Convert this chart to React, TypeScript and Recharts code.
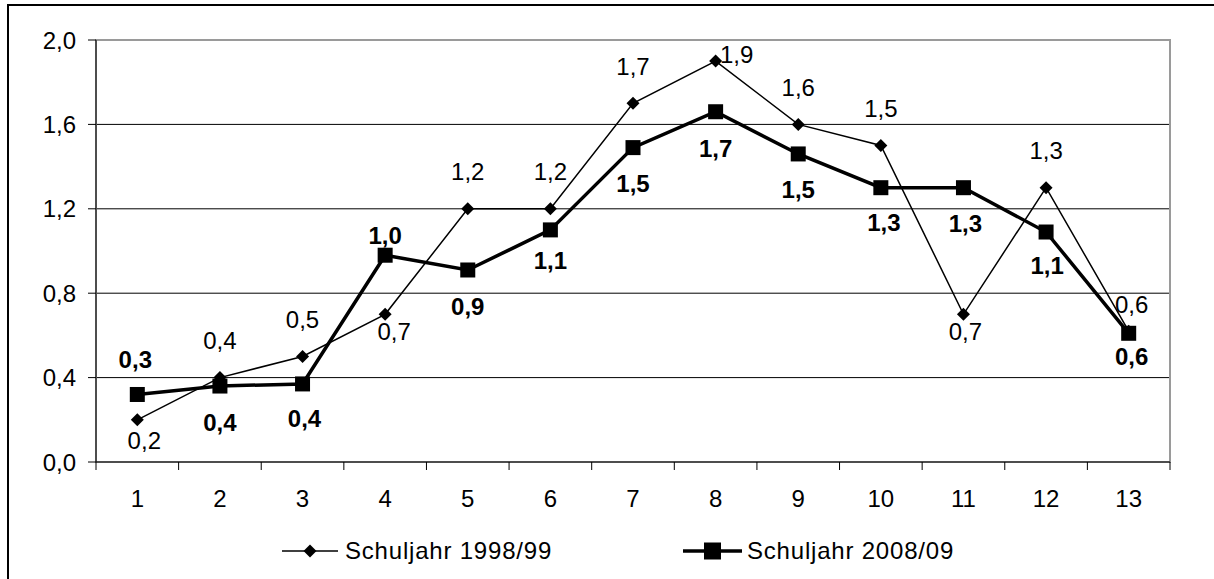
import { LineChart, Line, XAxis, YAxis, CartesianGrid, Legend, ReferenceArea } from 'recharts';

// Klassenstufen 1 bis 13
const GRADES = [1, 2, 3, 4, 5, 6, 7, 8, 9, 10, 11, 12, 13];

// Werte
const SCHULJAHR_1998 = [0.2, 0.4, 0.5, 0.7, 1.2, 1.2, 1.7, 1.9, 1.6, 1.5, 0.7, 1.3, 0.62];
const SCHULJAHR_2008 = [0.32, 0.36, 0.37, 0.98, 0.91, 1.1, 1.49, 1.66, 1.46, 1.3, 1.3, 1.09, 0.61];

const Y_TICKS = [0, 0.4, 0.8, 1.2, 1.6, 2.0];
const SERIES_NAMES = ['Schuljahr 1998/99', 'Schuljahr 2008/09'];

// Lage der Datenbeschriftungen relativ zum Punkt (dx, dy)
const OFFSET_1998 = [[7, 21], [0, -37], [0, -37], [9, 17], [0, -37], [0, -37], [0, -37], [21, -7], [0, -37], [0, -37], [2, 17], [0, -37], [3, -27]];
const OFFSET_2008 = [[-2, -35], [0, 36], [2, 35], [0, -20], [0, 36], [0, 31], [0, 36], [0, 37], [0, 36], [3, 35], [2, 36], [1, 33], [3, 23]];

const WIDTH = 1214;
const HEIGHT = 579;
const MARGIN = { top: 40, right: 44, bottom: 32, left: 0 };
const Y_AXIS_WIDTH = 96;
const PLOT_WIDTH = WIDTH - MARGIN.right - MARGIN.left - Y_AXIS_WIDTH;
const HALF_BAND = PLOT_WIDTH / GRADES.length / 2;
const TICK_SIZE = 8;
const TICK_GAP = 20;
const FONT = '"Liberation Sans", Arial, sans-serif';
const FONT_SIZE = 24;

const data = GRADES.map((g, i) => ({
  grade: g,
  s1998: SCHULJAHR_1998[i],
  s2008: SCHULJAHR_2008[i],
}));

const fmt = (v: number) => v.toFixed(1).replace('.', ',');

const XTick = (props: any) => {
  const { x, y, payload, index } = props;
  const axisY = y - TICK_SIZE - TICK_GAP;
  return (
    <g>
      <line x1={x - HALF_BAND} x2={x - HALF_BAND} y1={axisY} y2={axisY + TICK_SIZE} stroke="#000" />
      {index === GRADES.length - 1 && (
        <line x1={x + HALF_BAND} x2={x + HALF_BAND} y1={axisY} y2={axisY + TICK_SIZE} stroke="#000" />
      )}
      <text x={x} y={y} dy="0.71em" textAnchor="middle" fill="#000" fontSize={FONT_SIZE} fontFamily={FONT}>
        {payload.value}
      </text>
    </g>
  );
};

const diamondDot = (props: any) => {
  const { cx, cy, index } = props;
  const r = 6.5;
  return (
    <path
      key={`d-${index}`}
      d={`M${cx},${cy - r}L${cx + r},${cy}L${cx},${cy + r}L${cx - r},${cy}Z`}
      fill="#000"
    />
  );
};

const squareDot = (props: any) => {
  const { cx, cy, index } = props;
  const s = 15;
  return <rect key={`s-${index}`} x={cx - s / 2} y={cy - s / 2} width={s} height={s} fill="#000" />;
};

const makeLabel = (offsets: number[][], bold: boolean) => (props: any) => {
  const { x, y, value, index } = props;
  const [dx, dy] = offsets[index] || [0, 0];
  return (
    <text
      key={`l-${bold ? 'b' : 'n'}-${index}`}
      x={x + dx}
      y={y + dy}
      dy="0.355em"
      textAnchor="middle"
      fill="#000"
      fontSize={FONT_SIZE}
      fontWeight={bold ? 'bold' : 'normal'}
      fontFamily={FONT}
    >
      {fmt(value)}
    </text>
  );
};

const LegendContent = () => (
  <div style={{ display: 'flex', alignItems: 'center', height: 40, paddingLeft: 282, fontFamily: FONT, fontSize: FONT_SIZE, letterSpacing: 0.8, color: '#000' }}>
    <svg width={56} height={20} style={{ marginRight: 7 }}>
      <line x1={0} x2={56} y1={10} y2={10} stroke="#000" strokeWidth={1.5} />
      <path d="M28,3.5L34.5,10L28,16.5L21.5,10Z" fill="#000" />
    </svg>
    <span style={{ width: 338 }}>{SERIES_NAMES[0]}</span>
    <svg width={59} height={20} style={{ marginRight: 5 }}>
      <line x1={0} x2={59} y1={10} y2={10} stroke="#000" strokeWidth={3.5} />
      <rect x={21} y={1.5} width={17} height={17} fill="#000" />
    </svg>
    <span>{SERIES_NAMES[1]}</span>
  </div>
);

export default function App() {
  return (
    <div style={{ position: 'absolute', left: 0, top: 0, width: WIDTH, height: HEIGHT, overflow: 'hidden', background: '#fff' }}>
      <div style={{ position: 'absolute', left: 7, top: 4, width: 1400, height: 800, borderLeft: '2px solid #000', borderTop: '2px solid #000' }} />
      <LineChart width={WIDTH} height={HEIGHT} data={data} margin={MARGIN}>
        <ReferenceArea x1={0.5} x2={13.5} y1={0} y2={2} fill="none" stroke="#9a9a9a" strokeWidth={2} />
        <CartesianGrid vertical={false} horizontalValues={[0.4, 0.8, 1.2, 1.6]} stroke="#000" />
        <XAxis
          type="number"
          dataKey="grade"
          domain={[0.5, 13.5]}
          ticks={GRADES}
          interval={0}
          height={45}
          axisLine={{ stroke: '#000' }}
          tickLine={false}
          tickSize={TICK_SIZE}
          tickMargin={TICK_GAP}
          tick={<XTick />}
        />
        <YAxis
          type="number"
          domain={[0, 2]}
          ticks={Y_TICKS}
          width={Y_AXIS_WIDTH}
          tickFormatter={fmt}
          axisLine={{ stroke: '#000' }}
          tickLine={{ stroke: '#000' }}
          tickSize={TICK_SIZE}
          tickMargin={12}
          tick={{ fill: '#000', fontSize: FONT_SIZE, fontFamily: FONT }}
        />
        <Legend verticalAlign="bottom" height={40} content={<LegendContent />} wrapperStyle={{ left: 0, bottom: 8, width: WIDTH }} />
        <Line
          dataKey="s1998"
          name={SERIES_NAMES[0]}
          stroke="#000"
          strokeWidth={1.5}
          dot={diamondDot}
          activeDot={false}
          label={makeLabel(OFFSET_1998, false)}
          isAnimationActive={false}
        />
        <Line
          dataKey="s2008"
          name={SERIES_NAMES[1]}
          stroke="#000"
          strokeWidth={3.5}
          dot={squareDot}
          activeDot={false}
          label={makeLabel(OFFSET_2008, true)}
          isAnimationActive={false}
        />
      </LineChart>
    </div>
  );
}
